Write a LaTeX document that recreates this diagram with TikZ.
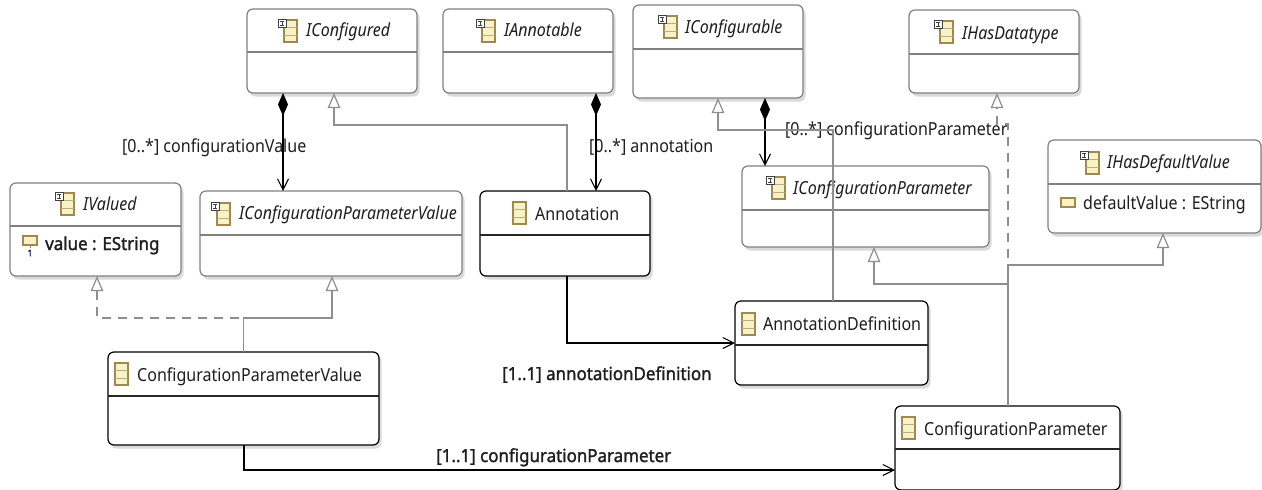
\documentclass[tikz,border=0pt]{standalone}
\usepackage{fontspec}
\usetikzlibrary{arrows.meta,calc}
\setmainfont{Noto Sans}[FakeStretch=0.89]
\newfontfamily\boldnoto{Noto Sans}[FakeBold=1.5,FakeStretch=0.94]
\definecolor{linegrey}{HTML}{8E8E8E}
\definecolor{boxgrey}{HTML}{808080}
\definecolor{shadowgrey}{HTML}{DADADA}
\definecolor{iconfill}{HTML}{F7F3C4}
\definecolor{iconline}{HTML}{A08850}
\definecolor{txt}{HTML}{1E1E1E}
\tikzset{
  x=1pt,y=-1pt,
  umlbase/.style={rectangle,rounded corners=6pt,fill=white,inner sep=0pt,outer sep=0pt,line width=1.2pt},
  ifacebox/.style={umlbase,draw=boxgrey},
  classbox/.style={umlbase,draw=black},
  title/.style={anchor=base west,inner sep=0pt,font=\fontsize{18}{20}\selectfont,text=txt},
  ititle/.style={title,font=\fontsize{18}{20}\selectfont\itshape},
  lab/.style={anchor=base west,inner sep=0pt,font=\fontsize{18}{20}\selectfont,text=txt},
  blab/.style={lab,font=\fontsize{18}{20}\boldnoto},
  gen/.style={draw=linegrey,line width=1.2pt},
  gentip/.style={gen,{Triangle[open,fill=white,length=15pt,width=12.5pt]}-},
  gendash/.style={gentip,dash pattern=on 9pt off 7pt},
  comp/.style={draw=black,line width=1.2pt,{Diamond[length=23pt,width=10pt]}-{Straight Barb[length=11pt,width=11pt,line width=1.1pt]}},
  refr/.style={draw=black,line width=1.2pt,-{Straight Barb[length=11pt,width=11pt,line width=1.1pt]}},
}
% name, x1,y1,x2,y2, ydivider, style, divider colour
\newcommand{\umlbox}[8]{%
  \fill[shadowgrey,rounded corners=6pt] (#2+2.5,#3+3) rectangle (#4+2.5,#5+3.5);
  \node[#7,minimum width={(#4-#2)*1pt},minimum height={(#5-#3)*1pt}] (#1) at ({(#2+#4)/2},{(#3+#5)/2}) {};
  \draw[#8,line width=1.2pt] (#2,#6) -- (#4,#6);
}
\newcommand{\clsicon}[2]{%
  \draw[iconline,fill=iconfill,line width=1.1pt] (#1,#2) rectangle (#1+13,#2+22);
  \draw[iconline!70,line width=.8pt] (#1,#2+7.5) -- (#1+13,#2+7.5) (#1,#2+15) -- (#1+13,#2+15);
}
\newcommand{\ifcicon}[2]{%
  \clsicon{#1}{#2}
  \draw[black!75,fill=white,line width=.7pt] (#1-6,#2-1) rectangle (#1+2,#2+7);
  \draw[black!75,line width=.7pt] (#1-4,#2+1) -- (#1,#2+1) (#1-2,#2+1) -- (#1-2,#2+5) (#1-4,#2+5) -- (#1,#2+5);
}
\begin{document}
\begin{tikzpicture}
\useasboundingbox (0,0) rectangle (1262,490);
\fill[white] (0,0) rectangle (1262,490);

\umlbox{iconfigured}{247}{9}{417}{93}{52}{ifacebox}{boxgrey}
\ifcicon{284}{20}
\node[ititle] (tconfigured) at (306,36) {IConfigured};

\umlbox{iannotable}{443}{9}{613}{93}{52}{ifacebox}{boxgrey}
\ifcicon{482}{20}
\node[ititle] (tannotable) at (504,36) {IAnnotable};

\umlbox{iconfigurable}{633}{5}{803}{98}{49}{ifacebox}{boxgrey}
\ifcicon{664}{16}
\node[ititle] (tconfigurable) at (685,33) {IConfigurable};

\umlbox{ihasdatatype}{909}{10}{1079}{93}{54}{ifacebox}{boxgrey}
\ifcicon{940}{21}
\node[ititle] (tdatatype) at (962,39) {IHasDatatype};

\umlbox{ihasdefault}{1048}{140}{1261}{233}{184}{ifacebox}{boxgrey}
\ifcicon{1086}{152}
\node[ititle] (tdefault) at (1107,168) {IHasDefaultValue};
\draw[iconline,fill=iconfill,line width=1.1pt] (1061,198) rectangle (1075,207);
\node[title] (tdefaultattr) at (1083,209) {defaultValue : EString};

\umlbox{iconfparam}{742}{166}{989}{247}{210}{ifacebox}{boxgrey}
\ifcicon{772}{177}
\node[ititle] (tconfparam) at (793,194) {IConfigurationParameter};

\umlbox{ivalued}{10}{183}{181}{276}{226}{ifacebox}{boxgrey}
\ifcicon{61}{193}
\node[ititle] (tvalued) at (83,210) {IValued};
\draw[iconline,fill=iconfill,line width=1.1pt] (23,236) rectangle (37,245);
\draw[iconline,line width=.9pt] (30,245) -- (30,248);
\node[font=\fontsize{9}{9}\boldnoto,text=blue!45!black,inner sep=0pt] (tvaluedone) at (30,253) {1};
\node[blab] (tvaluedattr) at (45,250) {value : EString};

\umlbox{icpv}{200}{191}{462}{276}{235}{ifacebox}{boxgrey}
\ifcicon{217}{203}
\node[ititle] (ticpv) at (239,219) {IConfigurationParameterValue};

\umlbox{annotation}{480}{191}{650}{276}{235}{classbox}{black!85}
\clsicon{513}{202}
\node[title] (tannotation) at (535,220) {Annotation};

\umlbox{anndef}{735}{301}{928}{385}{345}{classbox}{black!85}
\clsicon{742}{313}
\node[title] (tanndef) at (763,330) {AnnotationDefinition};

\umlbox{cpv}{108}{352}{379}{445}{396}{classbox}{black!85}
\clsicon{115}{363}
\node[title] (tcpv) at (137,381) {ConfigurationParameterValue};

\umlbox{cp}{895}{406}{1120}{490}{449}{classbox}{black!85}
\clsicon{902}{417}
\node[title] (tcp) at (924,435) {ConfigurationParameter};

% helper junctions
\coordinate (jcpv) at (243.5,318);
\coordinate (jcp) at (1008,284);
\coordinate (jdef) at (1008,265);

% labels
\node[lab] (l1) at (122,152) {[0..*] configurationValue};
\node[lab] (l2) at (589,152) {[0..*] annotation};
\node[lab] (l3) at (785,135) {[0..*] configurationParameter};
\node[blab] (l4) at (502,380) {[1..1] annotationDefinition};
\node[blab] (l5) at (436,462) {[1..1] configurationParameter};

% composition
\draw[comp] ([xshift=-49pt]iconfigured.south) -- ([xshift=-48pt]icpv.north);
\draw[comp] ([xshift=68pt]iannotable.south) -- ([xshift=31pt]annotation.north);
\draw[comp] ([xshift=47pt]iconfigurable.south) -- ([xshift=-100.5pt]iconfparam.north);

% generalisation
\draw[gentip] ([xshift=2pt]iconfigured.south) |- (567,125) -- ([xshift=2pt]annotation.north);
\draw[gentip] ([xshift=0pt]iconfigurable.south west)+(85,0) |- (833,130) -- ([xshift=1.5pt]anndef.north);
\draw[gendash,dash phase=8pt] ([xshift=3pt]ihasdatatype.south) -- ++(0,31) -- ++(11,0) -- (jdef);
\draw[gentip] ([xshift=8.5pt]ihasdefault.south) |- (jdef) -- (jcp);
\draw[gentip] ([xshift=8.5pt]iconfparam.south) |- (jcp) -- ([xshift=0.5pt]cp.north);
\draw[gendash] ([xshift=1.5pt]ivalued.south) |- (jcpv);
\draw[gentip] ([xshift=1pt]icpv.south) |- (jcpv) -- ([xshift=0pt]cpv.north);

% references
\draw[refr] ([xshift=2pt]annotation.south) |- (anndef.west |- 0,343);
\draw[refr] ([xshift=0.5pt]cpv.south) |- (cp.west |- 0,470);
\end{tikzpicture}
\end{document}
